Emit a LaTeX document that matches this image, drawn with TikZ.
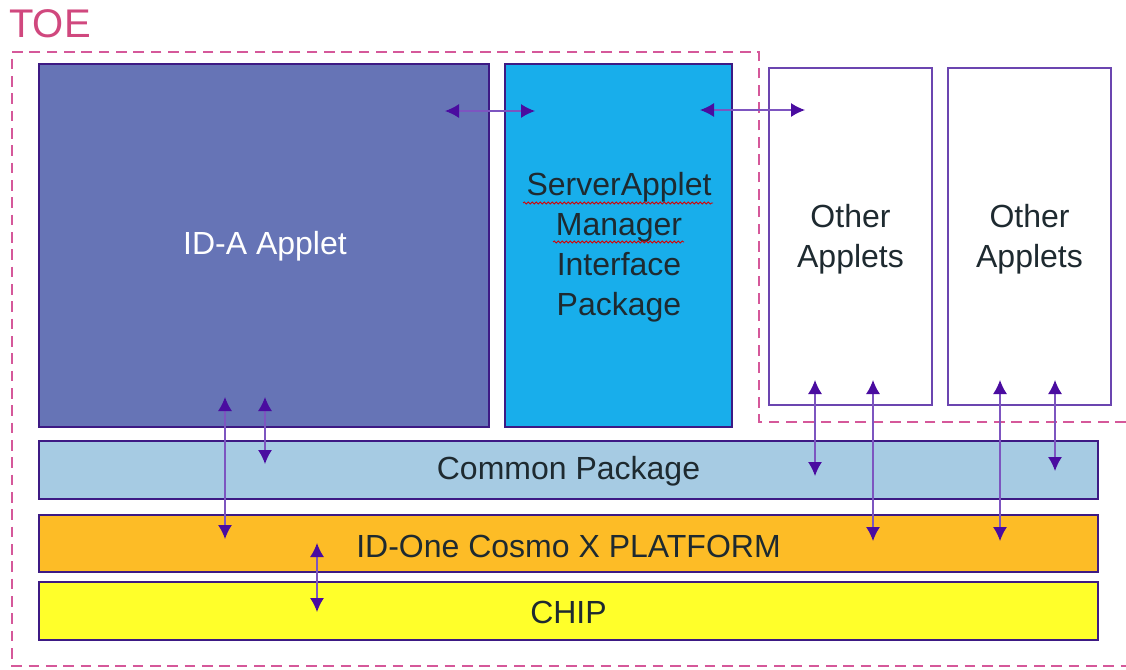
\documentclass[tikz,border=0pt]{standalone}
\usepackage{fontspec}
\setmainfont{Liberation Sans}
\usetikzlibrary{arrows.meta,decorations.pathmorphing}
\definecolor{boxline}{HTML}{3D1A84}
\definecolor{otherline}{HTML}{6B45B0}
\definecolor{idafill}{HTML}{6674B6}
\definecolor{serverfill}{HTML}{18AEEB}
\definecolor{commonfill}{HTML}{A6CBE3}
\definecolor{platfill}{HTML}{FDBC26}
\definecolor{chipfill}{HTML}{FFFF2A}
\definecolor{txt}{HTML}{1E2A30}
\definecolor{toecol}{HTML}{D0487E}
\definecolor{dashcol}{HTML}{D5589A}
\definecolor{arrline}{HTML}{7D55C0}
\definecolor{arrtip}{HTML}{4A0CA0}
\tikzset{
  blk/.style={draw=boxline, line width=2pt, text=txt, font=\fontsize{24}{30}\selectfont, align=center, inner sep=0pt},
  otherbox/.style={draw=otherline, line width=1.6pt, fill=white, inner sep=0pt},
  lbl/.style={text=txt, font=\fontsize{24}{30}\selectfont, align=center, inner sep=0pt},
  link/.style={draw=arrline, line width=1pt, {Latex[length=10.5pt,width=10.5pt,color=arrtip]}-{Latex[length=10.5pt,width=10.5pt,color=arrtip]}},
  toeline/.style={draw=dashcol, line width=1.8pt, dash pattern=on 8pt off 5pt},
  squig/.style={draw=red!85!black, line width=0.6pt, decorate, decoration={snake, amplitude=0.8pt, segment length=3pt}}
}
\begin{document}
\begin{tikzpicture}[x=0.75pt,y=-0.75pt]
\useasboundingbox (0,0) rectangle (1126,669);
% TOE boundary
\node[text=toecol, font=\fontsize{30}{30}\selectfont, anchor=west, inner sep=0pt] (toe) at (9,24) {TOE};
\draw[toeline] (1126,422) -- (759,422) -- (759,52) -- (12,52) -- (12,666) -- (1126,666);
% boxes
\draw[blk, fill=idafill] (39,64) rectangle (489,427);
\node[lbl, text=white] (ida) at (265,246) {ID-A Applet};
\draw[blk, fill=serverfill] (505,64) rectangle (732,427);
\node[lbl] (sam) at (619,247) {ServerApplet\\Manager\\Interface\\Package};
\draw[squig] (523,203) -- (713,203);
\draw[squig] (553,242) -- (684,242);
\draw[otherbox] (769,68) rectangle (932,405);
\node[lbl] (oa1) at (850.5,239) {Other\\Applets};
\draw[otherbox] (948,68) rectangle (1111,405);
\node[lbl] (oa2) at (1029.5,239) {Other\\Applets};
\draw[blk, fill=commonfill] (39,441) rectangle (1098,499);
\node[lbl] (common) at (568.5,471) {Common Package};
\draw[blk, fill=platfill] (39,515) rectangle (1098,572);
\node[lbl] (plat) at (568.5,546) {ID-One Cosmo X PLATFORM};
\draw[blk, fill=chipfill] (39,582) rectangle (1098,640);
\node[lbl] (chip) at (568.5,612) {CHIP};
% arrow end points
\coordinate (h1a) at (445,111); \coordinate (h1b) at (535,111);
\coordinate (h2a) at (700,110); \coordinate (h2b) at (805,110);
\coordinate (v1a) at (225,397); \coordinate (v1b) at (225,539);
\coordinate (v2a) at (265,397); \coordinate (v2b) at (265,464);
\coordinate (v3a) at (317,543); \coordinate (v3b) at (317,612);
\coordinate (v4a) at (815,380); \coordinate (v4b) at (815,476);
\coordinate (v5a) at (873,380); \coordinate (v5b) at (873,541);
\coordinate (v6a) at (1000,380); \coordinate (v6b) at (1000,541);
\coordinate (v7a) at (1055,380); \coordinate (v7b) at (1055,471);
\draw[link] (h1a) -- (h1b);
\draw[link] (h2a) -- (h2b);
\draw[link] (v1a) -- (v1b);
\draw[link] (v2a) -- (v2b);
\draw[link] (v3a) -- (v3b);
\draw[link] (v4a) -- (v4b);
\draw[link] (v5a) -- (v5b);
\draw[link] (v6a) -- (v6b);
\draw[link] (v7a) -- (v7b);
\end{tikzpicture}
\end{document}
